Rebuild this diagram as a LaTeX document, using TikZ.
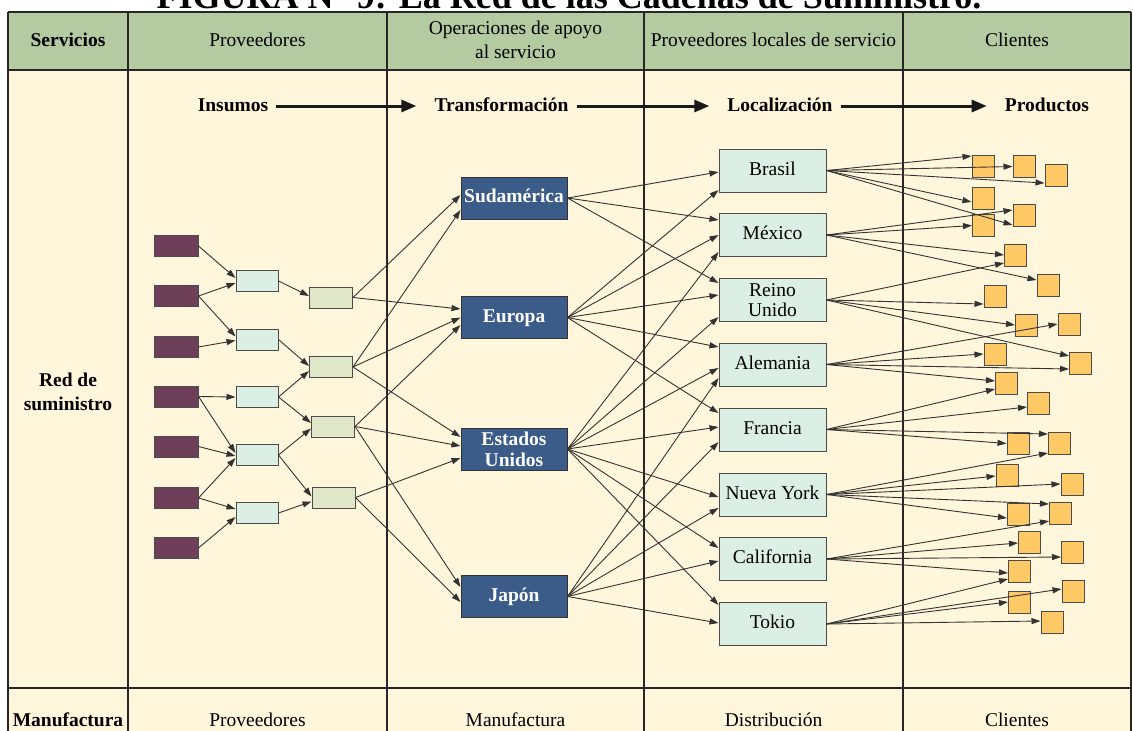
\documentclass[tikz,border=0pt]{standalone}
\usepackage{fontspec}
\setmainfont{Liberation Serif}
\usetikzlibrary{arrows.meta}
\definecolor{hdrgreen}{HTML}{B4CBA2}
\definecolor{cream}{HTML}{FFF6DB}
\definecolor{purp}{HTML}{6D3F59}
\definecolor{mint}{HTML}{DCEFE5}
\definecolor{sage}{HTML}{DFE7C8}
\definecolor{navy}{HTML}{3B5B89}
\definecolor{amber}{HTML}{FFC966}
\begin{document}
\begin{tikzpicture}[x=1pt,y=-1pt,
  every node/.style={font=\fontsize{19.5}{23.5}\selectfont},
  tbl/.style={draw=black!85,line width=1.3pt},
  hdr/.style={anchor=base,inner sep=0pt,align=center},
  flow/.style={anchor=base,inner sep=0pt,font=\fontsize{19.5}{23.5}\selectfont\bfseries,text height=14pt,text depth=4pt},
  flowarrow/.style={draw=black!90,line width=3pt,-{Triangle[length=15pt,width=12pt]},shorten <=8pt,shorten >=18pt},
  pbox/.style={draw=black!70,line width=1pt,fill=purp,minimum width=44pt,minimum height=21pt,inner sep=0pt},
  cbox/.style={draw=black!70,line width=1pt,fill=mint,minimum width=42pt,minimum height=21pt,inner sep=0pt},
  gbox/.style={draw=black!70,line width=1pt,fill=sage,minimum width=43pt,minimum height=21pt,inner sep=0pt},
  hub/.style={draw=black!80,line width=1pt,fill=navy,text=white,font=\fontsize{19.5}{21}\selectfont\bfseries,minimum width=106pt,minimum height=42pt,inner sep=0pt,align=center},
  hub1/.style={hub,text height=13pt,text depth=4pt},
  dist/.style={draw=black!70,line width=1pt,fill=mint,minimum width=107pt,minimum height=43pt,inner sep=0pt,align=center,font=\fontsize{19.5}{20}\selectfont},
  dist1/.style={dist,text height=13pt,text depth=4pt},
  sq/.style={draw=black!70,line width=1pt,fill=amber,minimum size=22pt,inner sep=0pt},
  link/.style={draw=black!80,line width=0.9pt,-{Triangle[length=9pt,width=6pt]}},
]
\useasboundingbox (0,0) rectangle (1133,731);
\clip (0,0) rectangle (1133,731);

% page and table backgrounds
\fill[white] (0,0) rectangle (1133,731);
\fill[cream] (8,70) rectangle (1131,745);
\fill[hdrgreen] (8,12) rectangle (1131,70);

% heading above the table
\node[anchor=base,inner sep=0pt,font=\fontsize{36}{40}\selectfont\bfseries] (title) at (569,8) {FIGURA N° 9: La Red de las Cadenas de Suministro.};

% table rules
\draw[tbl] (8,12) -- (1131,12);
\draw[tbl] (8,70) -- (1131,70);
\draw[tbl] (8,688) -- (1131,688);
\foreach \xx in {8,128,387,644,903,1131}
  \draw[tbl] (\xx,12) -- (\xx,745);

% header row
\node[hdr,font=\fontsize{19.5}{23.5}\selectfont\bfseries] (hserv) at (68,46) {Servicios};
\node[hdr] (hprov) at (257.5,46) {Proveedores};
\node[inner sep=0pt,align=center] (hops) at (515.5,39.6) {Operaciones de apoyo\\al servicio};
\node[hdr] (hloc) at (773.5,46) {Proveedores locales de servicio};
\node[hdr] (hcli) at (1017,46) {Clientes};

% row label
\node[inner sep=0pt,align=center,font=\fontsize{19.5}{24}\selectfont\bfseries] (red) at (68,392) {Red de\\suministro};

% bottom row
\node[hdr,font=\fontsize{19.5}{23.5}\selectfont\bfseries] (bman) at (68,726) {Manufactura};
\node[hdr] (bprov) at (257.5,726) {Proveedores};
\node[hdr] (bmanu) at (515.5,726) {Manufactura};
\node[hdr] (bdist) at (773.5,726) {Distribución};
\node[hdr] (bcli) at (1017,726) {Clientes};

% flow of stages
\node[flow] (ins) at (233,111) {Insumos};
\node[flow] (trans) at (501.5,111) {Transformación};
\node[flow] (loc) at (780,111) {Localización};
\node[flow] (prod) at (1047,111) {Productos};
\draw[flowarrow] (ins) -- (trans);
\draw[flowarrow] (trans) -- (loc);
\draw[flowarrow] (loc) -- (prod);

% suppliers
\foreach \n/\yy in {1/246,2/296,3/347,4/396.5,5/446.5,6/498,7/548}
  \node[pbox] (p\n) at (176,\yy) {};
\foreach \n/\yy in {1/281,2/339.5,3/397,4/455,5/513}
  \node[cbox] (c\n) at (257,\yy) {};
\node[gbox] (g1) at (331,297.5) {};
\node[gbox] (g2) at (331,367) {};
\node[gbox] (g3) at (333,426.5) {};
\node[gbox] (g4) at (333.5,497.5) {};

% manufacturing hubs
\node[hub1] (sud) at (514,198) {Sudamérica};
\node[hub1] (eur) at (514,317.5) {Europa};
\node[hub] (usa) at (514,449) {Estados\\Unidos};
\node[hub1] (jap) at (514,596.5) {Japón};

% distribution centres
\node[dist1] (bra) at (772.5,170.5) {Brasil};
\node[dist1] (mex) at (772.5,235) {México};
\node[dist] (ruk) at (772.5,300) {Reino\\Unido};
\node[dist1] (ale) at (772.5,364.5) {Alemania};
\node[dist1] (fra) at (772.5,429.5) {Francia};
\node[dist1] (nyk) at (772.5,494.5) {Nueva York};
\node[dist1] (cal) at (772.5,559) {California};
\node[dist1] (tok) at (772.5,624) {Tokio};

% customers
\foreach \n/\xx/\yy in {1/983/166.5,2/1024/166.5,3/1056/175.5,4/983/198,5/1024/215.5,
  6/983.5/225.5,7/1015.5/255,8/1048/285,9/995/296,10/1026.5/325,11/1069/324,
  12/995/354,13/1080.5/363,14/1006.5/383,15/1038.5/403,16/1018/443.5,17/1059.5/443,
  18/1007/475,19/1072/484,20/1018.5/514.5,21/1060.5/513,22/1029.5/542,23/1072.5/552,
  24/1019.5/571,25/1019.5/602,26/1073/591.5,27/1052/622}
  \node[sq] (s\n) at (\xx,\yy) {};

% supply links
\foreach \src/\dst/\dy in {p1/c1/3,p2/c1/-2,p2/c2/3,p3/c2/-1,p4/c3/0,p4/c4/2,p5/c4/-1,
  p6/c4/-3,p6/c5/4,p7/c5/-4,
  c1/g1/1.5,c2/g2/1,c3/g2/-4,c3/g3/3.5,c4/g3/-2,c4/g4/1,c5/g4/-4,
  g1/sud/3,g2/sud/-12,g1/eur/8.5,g2/eur/0,g3/eur/-7.5,g2/usa/12,g3/usa/3,g4/usa/-9,
  g3/jap/9.5,g4/jap/-5.5,
  sud/bra/-1.5,sud/mex/15,sud/ruk/17,
  eur/bra/-19.5,eur/mex/0,eur/ruk/5,eur/ale/17.5,eur/fra/16.5,
  usa/mex/-17,usa/ruk/-17,usa/ale/-3.5,usa/fra/2.5,usa/nyk/-2.5,usa/cal/11,usa/tok/19,
  jap/ale/-13.5,jap/fra/-12.5,jap/nyk/-13.5,jap/cal/-2,jap/tok/1,
  bra/s1/10.5,bra/s2/0,bra/s3/-7.5,bra/s4/-4,bra/s5/-9.5,
  mex/s5/5.5,mex/s6/0,mex/s7/0,mex/s8/5,
  ruk/s7/-8,ruk/s9/-8,ruk/s10/0,ruk/s13/7,
  ale/s11/0,ale/s12/0,ale/s13/-6,ale/s14/2,
  fra/s14/-6,fra/s15/-4,fra/s17/9,fra/s16/0,
  nyk/s17/-10,nyk/s18/-1,nyk/s19/0,nyk/s21/9,nyk/s20/-3.5,
  cal/s21/-8,cal/s22/-1,cal/s23/-5,cal/s24/-2,
  tok/s24/-8,tok/s26/2.5,tok/s25/0,tok/s27/1}
  \draw[link] (\src.east) -- ([yshift=\dy pt]\dst.west);
\end{tikzpicture}
\end{document}
